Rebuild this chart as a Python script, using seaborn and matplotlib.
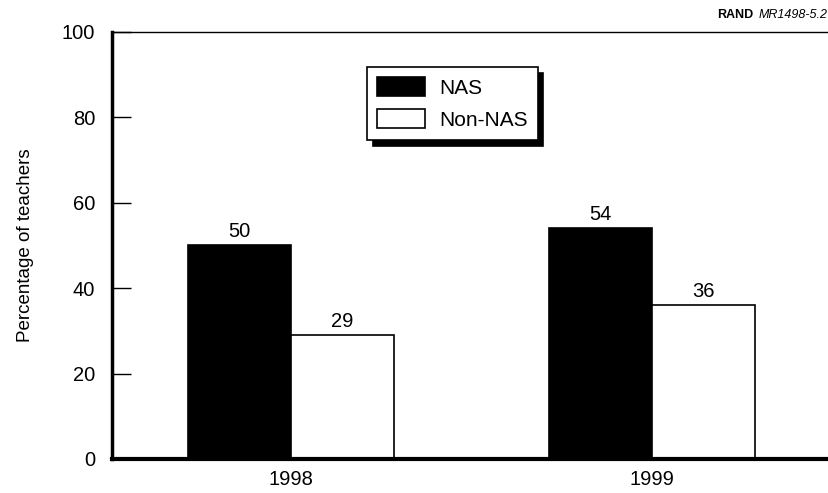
import matplotlib
matplotlib.use("Agg")
import matplotlib.pyplot as plt
import pandas as pd
import seaborn as sns

years = ["1998", "1999"]
groups = ["NAS", "Non-NAS"]
nas_values = [50, 54]
non_nas_values = [29, 36]

df = pd.DataFrame({
    "Year": years * 2,
    "Group": [groups[0]] * 2 + [groups[1]] * 2,
    "Value": nas_values + non_nas_values,
})

sns.set_style("white")
plt.rcParams["font.family"] = ["Liberation Sans", "DejaVu Sans"]
plt.rcParams.update({"text.color": "black", "axes.labelcolor": "black",
                     "xtick.color": "black", "ytick.color": "black"})

fig = plt.figure(figsize=(8.29, 4.93), dpi=100)
ax = fig.add_axes([112 / 829, 1 - 459 / 493, 1 - 112 / 829, (459 - 32) / 493])

sns.barplot(data=df, x="Year", y="Value", hue="Group", hue_order=groups,
            palette=["black", "white"], edgecolor="black", linewidth=1.2,
            width=0.57, ax=ax, legend=True)

# value labels
for cont in ax.containers:
    ax.bar_label(cont, fmt="%d", padding=3, fontsize=14.5)

ax.set_ylim(0, 100)
ax.set_xlim(-0.496, 1.49)
ax.set_yticks([0, 20, 40, 60, 80, 100])
ax.tick_params(axis="y", direction="in", length=14, width=1, labelsize=14.5, pad=12, left=True)
ax.tick_params(axis="x", length=0, labelsize=14.5, pad=8)
ax.set_xlabel("")
ax.set_ylabel("Percentage of teachers", fontsize=13.5, labelpad=20)

ax.spines["right"].set_visible(False)
ax.spines["left"].set_linewidth(2.5)
ax.spines["bottom"].set_linewidth(3)
ax.spines["top"].set_linewidth(1)
for s in ["left", "bottom", "top"]:
    ax.spines[s].set_color("black")

leg = ax.legend(loc="upper left", bbox_to_anchor=(367 / 829, 1 - 67 / 493),
                bbox_transform=fig.transFigure, borderaxespad=0,
                fancybox=False, edgecolor="black", framealpha=1,
                fontsize=15, handlelength=2.3, handleheight=1.0,
                borderpad=0.5, labelspacing=0.55, handletextpad=0.65,
                shadow={"ox": 4, "oy": -4, "color": "black", "alpha": 1})
leg.get_frame().set_linewidth(1.2)

fig.text(717 / 829, 1 - 15 / 493, "RAND", fontsize=9, fontweight="bold", va="center")
fig.text(759 / 829, 1 - 15 / 493, "MR1498-5.2", fontsize=9, fontstyle="italic", va="center")

fig.savefig("out.png", dpi=100)
